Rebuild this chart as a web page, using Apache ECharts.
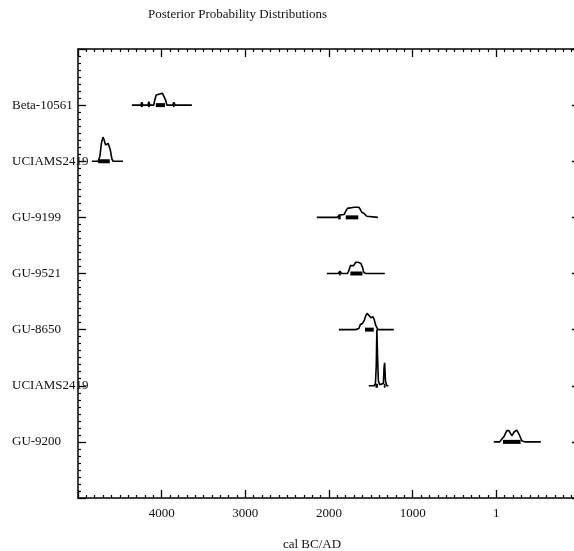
<!DOCTYPE html>
<html>
<head>
<meta charset="utf-8">
<script src="https://cdn.jsdelivr.net/npm/echarts@6/dist/echarts.min.js"></script>
<style>html,body{margin:0;padding:0;background:#fff}#c{width:574px;height:551px}</style>
</head>
<body>
<div id="c"></div>
<script>
// Sample labels (top to bottom)
const labels = ['Beta-10561','UCIAMS2419','GU-9199','GU-9521','GU-8650','UCIAMS2419','GU-9200'];
// x tick values (BC positive, AD negative; 0 shown as "1")
const xTicks = [4000, 3000, 2000, 1000, 0];

// Posterior outlines: years (cal BC, AD negative) and relative heights (row units)
const years1 = [4356, 4250, 4237, 4225, 4165, 4153, 4140, 4095, 4081, 4065, 4045, 3990, 3973, 3950, 3938, 3870, 3854, 3838, 3639];
const dens1  = [0, 0, 0.05, 0, 0, 0.06, 0, 0, 0.10, 0.18, 0.21, 0.21, 0.19, 0.08, 0, 0, 0.05, 0, 0];
const years2 = [4834, 4760, 4745, 4738, 4720, 4702, 4690, 4670, 4655, 4640, 4631, 4615, 4595, 4580, 4463];
const dens2  = [0, 0, 0.02, 0.09, 0.32, 0.43, 0.39, 0.29, 0.27, 0.32, 0.34, 0.21, 0.04, 0, 0];
const years3 = [2145, 1900, 1880, 1870, 1860, 1820, 1799, 1780, 1763, 1700, 1643, 1625, 1607, 1580, 1560, 1548, 1530, 1416];
const dens3  = [0, 0, 0.04, 0.07, 0.04, 0.05, 0.11, 0.16, 0.18, 0.18, 0.18, 0.14, 0.09, 0.07, 0.05, 0.02, 0, 0];
const years4 = [2026, 1890, 1870, 1850, 1780, 1763, 1745, 1727, 1705, 1680, 1650, 1619, 1600, 1584, 1560, 1333];
const dens4  = [0, 0, 0.04, 0, 0, 0.05, 0.14, 0.16, 0.14, 0.20, 0.20, 0.18, 0.11, 0.02, 0, 0];
const years5 = [1882, 1680, 1643, 1625, 1619, 1600, 1580, 1560, 1545, 1536, 1520, 1500, 1488, 1476, 1460, 1440, 1415, 1225];
const dens5  = [0, 0, 0.02, 0.09, 0.11, 0.11, 0.16, 0.25, 0.29, 0.29, 0.25, 0.21, 0.23, 0.23, 0.18, 0.07, 0, 0];
const years6 = [1525, 1460, 1445, 1435, 1428, 1420, 1410, 1395, 1375, 1350, 1342, 1335, 1325, 1310, 1290];
const dens6  = [0, 0, 0.04, 0.36, 1.0, 0.54, 0.09, 0.02, 0.02, 0.04, 0.32, 0.41, 0.09, 0, 0];
const years7 = [30, -40, -66, -90, -110, -125, -150, -161, -185, -215, -233, -245, -270, -305, -340, -532];
const dens7  = [0, 0, 0.05, 0.09, 0.11, 0.20, 0.20, 0.20, 0.11, 0.18, 0.21, 0.21, 0.14, 0.02, 0, 0];

// Highest-density range bars (start, end) per sample
const ranges1 = [[4250, 4225], [4165, 4140], [4070, 3960], [3865, 3845]];
const ranges2 = [[4760, 4620]];
const ranges3 = [[1890, 1860], [1800, 1650]];
const ranges4 = [[1880, 1860], [1745, 1600]];
const ranges5 = [[1570, 1465]];
const ranges6 = [[1445, 1415], [1345, 1325]];
const ranges7 = [[-80, -290]];

const allYears = [years1, years2, years3, years4, years5, years6, years7];
const allDens = [dens1, dens2, dens3, dens4, dens5, dens6, dens7];
const allRanges = [ranges1, ranges2, ranges3, ranges4, ranges5, ranges6, ranges7];

const serif = 'Liberation Serif';
const series = [];
allYears.forEach((ys, i) => {
  const row = i + 1;
  series.push({
    type: 'line', silent: true, symbol: 'none', xAxisIndex: 0, yAxisIndex: 0,
    lineStyle: { color: '#000', width: 1.6 },
    data: ys.map((y, j) => [y, row - allDens[i][j]])
  });
  allRanges[i].forEach(r => {
    series.push({
      type: 'line', silent: true, symbol: 'none', xAxisIndex: 0, yAxisIndex: 0,
      lineStyle: { color: '#000', width: 4 },
      data: [[r[0], row], [r[1], row]]
    });
  });
});

const axLine = { show: true, onZero: false, lineStyle: { color: '#000', width: 1.5 } };
const majTick = { show: true, inside: true, length: 8, lineStyle: { color: '#000', width: 1.3 } };

const chart = echarts.init(document.getElementById('c'), null, { renderer: 'canvas' });
chart.setOption({
  animation: false,
  backgroundColor: '#fff',
  title: {
    text: 'Posterior Probability Distributions',
    left: 148, top: 8, padding: 0,
    textStyle: { fontFamily: serif, fontSize: 13, fontWeight: 'normal', color: '#111' }
  },
  grid: { left: 78, right: -6, top: 49, bottom: 53, containLabel: false, outerBoundsMode: 'none' },
  xAxis: [{
    type: 'value', position: 'bottom', inverse: true, min: -1000, max: 5000, interval: 1000,
    name: 'cal BC/AD', nameLocation: 'middle', nameGap: 40,
    nameTextStyle: { fontFamily: serif, fontSize: 13, color: '#111', padding: [0, 34, 0, 0] },
    axisLine: axLine,
    axisTick: majTick,
    minorTick: { show: true, splitNumber: 10, length: 3, lineStyle: { color: '#000', width: 1.2 } },
    axisLabel: {
      margin: 9, fontFamily: serif, fontSize: 13, color: '#111',
      formatter: v => xTicks.includes(v) ? (v === 0 ? '1' : String(v)) : ''
    },
    splitLine: { show: false }
  }, {
    type: 'value', position: 'top', inverse: true, min: -1000, max: 5000, interval: 1000,
    axisLine: axLine,
    axisTick: majTick,
    minorTick: { show: true, splitNumber: 10, length: 3, lineStyle: { color: '#000', width: 1.2 } },
    axisLabel: { show: false },
    splitLine: { show: false }
  }],
  yAxis: [{
    type: 'value', position: 'left', inverse: true, min: 0, max: 8, interval: 1,
    axisLine: axLine,
    axisTick: majTick,
    minorTick: { show: true, splitNumber: 8, length: 3, lineStyle: { color: '#000', width: 1.2 } },
    axisLabel: {
      margin: 66, align: 'left', fontFamily: serif, fontSize: 13, color: '#111',
      formatter: v => (v >= 1 && v <= labels.length) ? labels[v - 1] : ''
    },
    splitLine: { show: false }
  }, {
    type: 'value', position: 'right', inverse: true, min: 0, max: 8, interval: 1,
    axisLine: axLine,
    axisTick: majTick,
    axisLabel: { show: false },
    splitLine: { show: false }
  }],
  series: series
});
</script>
</body>
</html>
